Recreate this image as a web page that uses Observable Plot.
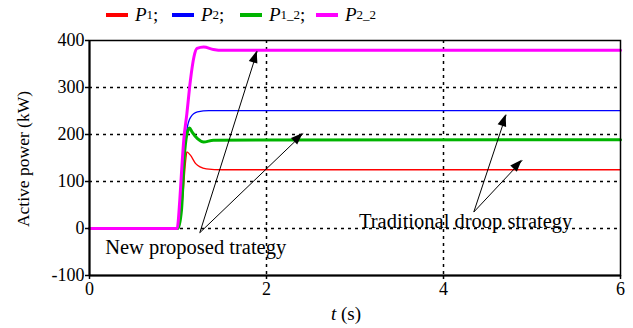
<!DOCTYPE html>
<html>
<head>
<meta charset="utf-8">
<script src="https://cdn.jsdelivr.net/npm/d3@7"></script>
<script src="https://cdn.jsdelivr.net/npm/@observablehq/plot@0.6"></script>
<style>
  html, body { margin: 0; padding: 0; background: #fff; }
  #wrap { width: 633px; height: 328px; position: relative; font-family: "Liberation Serif", "Times New Roman", serif; }
  #legend { position: relative; height: 30px; width: 633px; }
  .item { position: absolute; top: 3px; height: 24px; display: flex; align-items: center; font-size: 19px; color: #000; }
  .sw { display: inline-block; width: 22px; height: 4px; margin-right: 7px; }
  .item i { font-style: italic; }
  .item sub { font-size: 13px; vertical-align: -4px; line-height: 0; }
</style>
</head>
<body>
<div id="wrap">
  <div id="legend"></div>
  <div id="chart"></div>
</div>
<script>
// ---- data ----
const seriesNames = ["P1", "P2", "P1_2", "P2_2"];
const seriesSub = ["1", "2", "1_2", "2_2"];
const seriesColors = ["#ff0000", "#0000ff", "#00b400", "#ff00ff"];
const seriesWidths = [1.3, 1.3, 3, 3];

const t_P1 = [0, 1.0, 1.05, 1.09, 1.10, 1.14, 1.20, 1.25, 1.32, 1.5, 6];
const v_P1 = [0, 0, 60, 150, 163, 156, 138, 131, 127, 125, 125];

const t_P2 = [0, 1.0, 1.05, 1.08, 1.10, 1.14, 1.22, 1.35, 6];
const v_P2 = [0, 0, 80, 170, 209, 236, 248, 251, 251];

const t_P1_2 = [0, 1.0, 1.04, 1.07, 1.10, 1.13, 1.16, 1.22, 1.29, 1.40, 6];
const v_P1_2 = [0, 0, 40, 150, 200, 214, 205, 191, 184, 188, 189];

const t_P2_2 = [0, 0.99, 1.02, 1.04, 1.065, 1.10, 1.14, 1.18, 1.215, 1.29, 1.40, 1.5, 6];
const v_P2_2 = [0, 0, 60, 120, 188, 244, 315, 365, 383, 386, 381, 379, 379];

const xTicks = [0, 2, 4, 6];
const yTicks = [-100, 0, 100, 200, 300, 400];
const gridX = [2, 4];
const gridY = [0, 100, 200, 300];

// annotations
const annoText = ["New proposed trategy", "Traditional droop strategy"];
const annoTextT = [1.20, 4.25];
const annoTextV = [-40, 16];
const arrowFromT = [1.246, 1.246, 4.342, 4.342];
const arrowFromV = [-9, -9, 35, 35];
const arrowToT = [1.895, 2.415, 4.708, 4.89];
const arrowToV = [377, 202, 242, 145];

const yLabel = "Active power (kW)";
const xLabelItalic = "t";
const xLabelRest = " (s)";

// ---- build ----
const ts = [t_P1, t_P2, t_P1_2, t_P2_2];
const vs = [v_P1, v_P2, v_P1_2, v_P2_2];
const rows = [];
seriesNames.forEach((name, i) => {
  ts[i].forEach((t, j) => rows.push({series: name, t, v: vs[i][j]}));
});

// legend
const legend = document.getElementById("legend");
const legendLeft = [106, 172, 240, 316];
seriesNames.forEach((name, i) => {
  const d = document.createElement("div");
  d.className = "item";
  d.style.left = legendLeft[i] + "px";
  d.innerHTML = `<span class="sw" style="background:${seriesColors[i]}"></span><i>P</i><sub>${seriesSub[i]}</sub>${i < 3 ? ";" : ""}`;
  legend.appendChild(d);
});

const arrows = arrowFromT.map((t, i) => ({x1: t, y1: arrowFromV[i], x2: arrowToT[i], y2: arrowToV[i]}));
const texts = annoText.map((s, i) => ({s, t: annoTextT[i], v: annoTextV[i]}));

const plot = Plot.plot({
  width: 633,
  height: 298,
  marginTop: 10,
  marginBottom: 53,
  marginLeft: 89,
  marginRight: 13,
  style: {fontFamily: "Liberation Serif, Times New Roman, serif", fontSize: "18px", color: "#000", background: "#fff", overflow: "visible"},
  x: {domain: [0, 6]},
  y: {domain: [-100, 400]},
  marks: [
    Plot.ruleY(gridY, {stroke: "#000", strokeWidth: 1.5, strokeDasharray: "3,4"}),
    Plot.ruleX(gridX, {stroke: "#000", strokeWidth: 1.5, strokeDasharray: "3,4"}),
    ...seriesNames.map((name, i) => Plot.line(rows.filter(r => r.series === name), {
      x: "t", y: "v", stroke: seriesColors[i], strokeWidth: seriesWidths[i], curve: "monotone-x"
    })),
    Plot.frame({stroke: "#000", strokeWidth: 1.5}),
    Plot.ruleX([0], {stroke: "#000", strokeWidth: 2}),
    Plot.ruleY([-100], {stroke: "#000", strokeWidth: 2}),
    Plot.axisX({ticks: xTicks, tickSize: 4, tickPadding: 3, tickFormat: d => String(d), label: null, strokeWidth: 1.5}),
    Plot.axisY({ticks: yTicks, tickSize: 4, tickPadding: 1, tickFormat: d => String(d), label: null, strokeWidth: 1.5}),
    Plot.link(arrows, {x1: "x1", y1: "y1", x2: "x2", y2: "y2", stroke: "#000", strokeWidth: 1}),
    Plot.text(texts, {x: "t", y: "v", text: "s", fill: "#000", fontSize: 20.5, textAnchor: "middle"})
  ]
});
document.getElementById("chart").appendChild(plot);

// filled arrowheads, using the plot's own scales
const sx = plot.scale("x"), sy = plot.scale("y");
const svg = d3.select(plot);
arrows.forEach(a => {
  const x1 = sx.apply(a.x1), y1 = sy.apply(a.y1), x2 = sx.apply(a.x2), y2 = sy.apply(a.y2);
  const ang = Math.atan2(y2 - y1, x2 - x1);
  const L = 12, W = 4.5;
  const bx = x2 - L * Math.cos(ang), by = y2 - L * Math.sin(ang);
  const px = -Math.sin(ang) * W, py = Math.cos(ang) * W;
  svg.append("path")
    .attr("d", `M${x2},${y2}L${bx + px},${by + py}L${bx - px},${by - py}Z`)
    .attr("fill", "#000");
});

// axis labels
svg.append("text")
  .attr("transform", `translate(23,129) rotate(-90)`)
  .attr("text-anchor", "middle")
  .attr("dominant-baseline", "central")
  .attr("font-size", 17.5)
  .attr("fill", "#000")
  .text(yLabel);
const xlab = svg.append("text")
  .attr("x", 346).attr("y", 283)
  .attr("text-anchor", "middle")
  .attr("dominant-baseline", "central")
  .attr("font-size", 19)
  .attr("fill", "#000");
xlab.append("tspan").attr("font-style", "italic").text(xLabelItalic);
xlab.append("tspan").text(xLabelRest);
</script>
</body>
</html>
